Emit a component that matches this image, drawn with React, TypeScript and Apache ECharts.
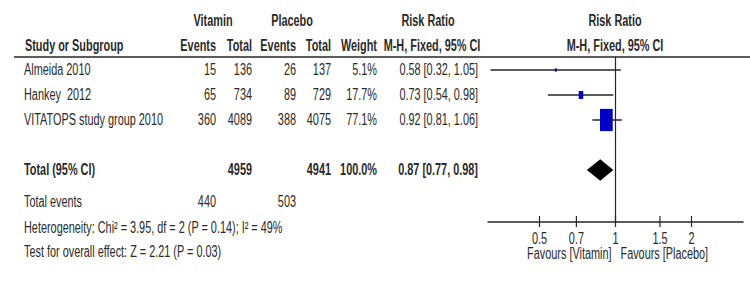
import React, { useEffect, useRef } from "react";
import * as echarts from "echarts";

// ---- data ----
const studies = ["Almeida 2010", "Hankey  2012", "VITATOPS study group 2010"];
const vitEvents = [15, 65, 360];
const vitTotal = [136, 734, 4089];
const plaEvents = [26, 89, 388];
const plaTotal = [137, 729, 4075];
const weights = [5.1, 17.7, 77.1];
const rr = [0.58, 0.73, 0.92];
const rrLow = [0.32, 0.54, 0.81];
const rrHigh = [1.05, 0.98, 1.06];
const studyRows = [0, 1, 2];

const totalLabel = "Total (95% CI)";
const totalRow = 4;
const totalVit = 4959;
const totalPla = 4941;
const totalWeight = 100.0;
const totalRR = [0.87];
const totalLow = [0.77];
const totalHigh = [0.98];
const totalEventsVit = 440;
const totalEventsPla = 503;

const tickValues = [0.5, 0.7, 1, 1.5, 2];
const tickLabels = ["0.5", "0.7", "1", "1.5", "2"];
const heterogeneity = "Heterogeneity: Chi\u00B2 = 3.95, df = 2 (P = 0.14); I\u00B2 = 49%";
const overallTest = "Test for overall effect: Z = 2.21 (P = 0.03)";
const favourLeft = "Favours [Vitamin]";
const favourRight = "Favours [Placebo]";

// ---- style ----
const FONT = "'Liberation Sans', Arial, sans-serif";
const FS = 16;
const SX = 0.68;
const TXT = "#2a2a2a";
const LINE = "#262626";
const BLUE = "#0000c4";

const X_MIN = -0.505;
const X_MAX = 0.505;
const Y_MIN = -0.52;
const Y_MAX = 6.08;

const fmtRR = (e: number, l: number, h: number) =>
  `${e.toFixed(2)} [${l.toFixed(2)}, ${h.toFixed(2)}]`;

function txt(x: number, y: number, text: string, align: string, bold = false, fs = FS) {
  return {
    type: "text",
    x,
    y,
    scaleX: SX,
    style: {
      text,
      x: 0,
      y: 0,
      fill: TXT,
      font: `${bold ? "bold " : ""}${fs}px ${FONT}`,
      align,
      textAlign: align,
      verticalAlign: "middle",
      textVerticalAlign: "middle",
    },
  };
}

const COL = { name: 24, ve: 216, vt: 252, pe: 296, pt: 331, w: 377, rr: 478 };

export default function App() {
  const ref = useRef<HTMLDivElement>(null);
  useEffect(() => {
    if (!ref.current) return;
    const chart = echarts.init(ref.current, null, { renderer: "svg" });

    const tableData = studyRows.map((r, i) => [0, r, i]);
    const forestData = studyRows.map((r, i) => [
      Math.log10(rr[i]),
      Math.log10(rrLow[i]),
      Math.log10(rrHigh[i]),
      r,
      weights[i],
    ]);
    const diamondData = totalRR.map((v, i) => [
      Math.log10(v),
      Math.log10(totalLow[i]),
      Math.log10(totalHigh[i]),
      totalRow,
    ]);
    const tickData = tickValues.map((v, i) => [Math.log10(v), i]);

    const header = [
      txt(213, 21, "Vitamin", "center", true),
      txt(292, 21, "Placebo", "center", true),
      txt(428, 21, "Risk Ratio", "center", true),
      txt(615, 21, "Risk Ratio", "center", true),
      txt(25, 46, "Study or Subgroup", "left", true),
      txt(COL.ve, 46, "Events", "right", true),
      txt(COL.vt, 46, "Total", "right", true),
      txt(COL.pe, 46, "Events", "right", true),
      txt(COL.pt, 46, "Total", "right", true),
      txt(COL.w, 46, "Weight", "right", true),
      txt(432, 46, "M-H, Fixed, 95% CI", "center", true),
      txt(615, 46, "M-H, Fixed, 95% CI", "center", true),
      {
        type: "line",
        shape: { x1: 14, y1: 57, x2: 750, y2: 57 },
        style: { stroke: LINE, lineWidth: 1.5 },
      },
      txt(COL.name, 202, "Total events", "left"),
      txt(COL.ve, 202, String(totalEventsVit), "right"),
      txt(COL.pe, 202, String(totalEventsPla), "right"),
      txt(COL.name, 228, heterogeneity, "left"),
      txt(COL.name, 252, overallTest, "left"),
    ];

    const option: any = {
      animation: false,
      backgroundColor: "#ffffff",
      grid: { left: 488, width: 255, top: 57, height: 165 },
      xAxis: {
        type: "value",
        min: X_MIN,
        max: X_MAX,
        position: "bottom",
        axisLine: { show: true, onZero: false, lineStyle: { color: LINE, width: 1.5 } },
        axisTick: { show: false },
        axisLabel: { show: false },
        splitLine: { show: false },
      },
      yAxis: {
        type: "value",
        min: Y_MIN,
        max: Y_MAX,
        inverse: true,
        show: false,
        splitLine: { show: false },
      },
      graphic: header,
      series: [
        {
          type: "line",
          data: [
            [0, Y_MIN],
            [0, Y_MAX],
          ],
          symbol: "none",
          lineStyle: { color: LINE, width: 1.2 },
          silent: true,
        },
        {
          type: "custom",
          data: tableData,
          renderItem: (params: any, api: any) => {
            const i = api.value(2);
            const y = api.coord([0, api.value(1)])[1];
            return {
              type: "group",
              children: [
                txt(COL.name, y, studies[i], "left"),
                txt(COL.ve, y, String(vitEvents[i]), "right"),
                txt(COL.vt, y, String(vitTotal[i]), "right"),
                txt(COL.pe, y, String(plaEvents[i]), "right"),
                txt(COL.pt, y, String(plaTotal[i]), "right"),
                txt(COL.w, y, `${weights[i].toFixed(1)}%`, "right"),
                txt(COL.rr, y, fmtRR(rr[i], rrLow[i], rrHigh[i]), "right"),
              ],
            };
          },
        },
        {
          type: "custom",
          data: [[0, totalRow]],
          renderItem: (params: any, api: any) => {
            const y = api.coord([0, api.value(1)])[1];
            return {
              type: "group",
              children: [
                txt(COL.name, y, totalLabel, "left", true),
                txt(COL.vt, y, String(totalVit), "right", true),
                txt(COL.pt, y, String(totalPla), "right", true),
                txt(COL.w, y, `${totalWeight.toFixed(1)}%`, "right", true),
                txt(COL.rr, y, fmtRR(totalRR[0], totalLow[0], totalHigh[0]), "right", true),
              ],
            };
          },
        },
        {
          type: "custom",
          data: forestData,
          renderItem: (params: any, api: any) => {
            const row = api.value(3);
            const c = api.coord([api.value(0), row]);
            const l = api.coord([api.value(1), row]);
            const h = api.coord([api.value(2), row]);
            const w = 12.7 * Math.pow(api.value(4) / 77.1, 0.7);
            const hh = w * 1.75;
            return {
              type: "group",
              children: [
                {
                  type: "line",
                  shape: { x1: l[0], y1: l[1], x2: h[0], y2: h[1] },
                  style: { stroke: LINE, lineWidth: 1.5 },
                },
                {
                  type: "rect",
                  shape: { x: c[0] - w / 2, y: c[1] - hh / 2, width: w, height: hh },
                  style: { fill: BLUE },
                },
              ],
            };
          },
        },
        {
          type: "custom",
          data: diamondData,
          renderItem: (params: any, api: any) => {
            const row = api.value(3);
            const c = api.coord([api.value(0), row]);
            const l = api.coord([api.value(1), row]);
            const h = api.coord([api.value(2), row]);
            const half = 10.8;
            return {
              type: "polygon",
              shape: {
                points: [
                  [l[0], c[1]],
                  [c[0], c[1] - half],
                  [h[0], c[1]],
                  [c[0], c[1] + half],
                ],
              },
              style: { fill: "#000000" },
            };
          },
        },
        {
          type: "custom",
          data: tickData,
          renderItem: (params: any, api: any) => {
            const p = api.coord([api.value(0), Y_MAX]);
            const i = api.value(1);
            return {
              type: "group",
              children: [
                {
                  type: "line",
                  shape: { x1: p[0], y1: p[1] - 6, x2: p[0], y2: p[1] + 5 },
                  style: { stroke: LINE, lineWidth: 1.2 },
                },
                txt(p[0], p[1] + 17, tickLabels[i], "center"),
              ],
            };
          },
        },
        {
          type: "custom",
          data: [[0, Y_MAX]],
          renderItem: (params: any, api: any) => {
            const p = api.coord([api.value(0), api.value(1)]);
            return {
              type: "group",
              children: [
                txt(p[0] - 4, p[1] + 32, favourLeft, "right"),
                txt(p[0] + 5, p[1] + 32, favourRight, "left"),
              ],
            };
          },
        },
      ],
    };
    chart.setOption(option);
    return () => chart.dispose();
  }, []);
  return (
    <div
      ref={ref}
      style={{ position: "fixed", left: 0, top: 0, width: 750, height: 295, background: "#fff" }}
    />
  );
}
